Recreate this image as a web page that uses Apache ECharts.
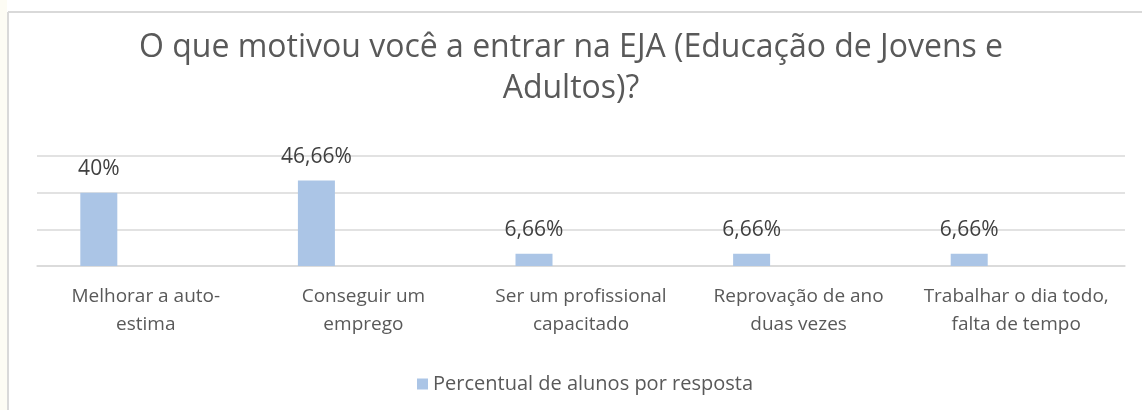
<!DOCTYPE html>
<html>
<head>
<meta charset="utf-8">
<script src="https://cdn.jsdelivr.net/npm/echarts@6/dist/echarts.min.js"></script>
<style>
  html, body { margin: 0; padding: 0; background: #fff; }
  #chart { width: 1142px; height: 410px; }
</style>
</head>
<body>
<div id="chart"></div>
<script>
// dados do gráfico
var categories = [
  "Melhorar a auto-estima",
  "Conseguir um emprego",
  "Ser um profissional capacitado",
  "Reprovação de ano duas vezes",
  "Trabalhar o dia todo, falta de tempo"
];
var tickLabels = [
  "Melhorar a auto-\nestima",
  "Conseguir um\nemprego",
  "Ser um profissional\ncapacitado",
  "Reprovação de ano\nduas vezes",
  "Trabalhar o dia todo,\nfalta de tempo"
];
var percentual = [40, 46.66, 6.66, 6.66, 6.66];
var emptySeries = [null, null, null, null, null];
var seriesName = "Percentual de alunos por resposta";
var titleText = "O que motivou você a entrar na EJA (Educação de Jovens e\nAdultos)?";

var FONT = "Open Sans";
var chart = echarts.init(document.getElementById("chart"));

var option = {
  backgroundColor: "#ffffff",
  animation: false,
  title: {
    text: titleText,
    left: "center",
    top: 22,
    textStyle: {
      fontFamily: FONT,
      fontSize: 32,
      fontWeight: "normal",
      color: "#595959",
      lineHeight: 41
    }
  },
  graphic: [
    { type: "rect", shape: { x: 0, y: 0, width: 7, height: 410 }, style: { fill: "#fdfcf4" }, silent: true },
    { type: "line", shape: { x1: 8, y1: 12, x2: 1142, y2: 12 }, style: { stroke: "#d9d9d9", lineWidth: 2 }, silent: true },
    { type: "line", shape: { x1: 8, y1: 12, x2: 8, y2: 410 }, style: { stroke: "#d9d9d9", lineWidth: 2 }, silent: true }
  ],
  legend: {
    data: [seriesName],
    left: 412,
    top: 369,
    icon: "rect",
    itemWidth: 11,
    itemHeight: 11,
    itemGap: 10,
    textStyle: { fontFamily: FONT, fontSize: 20, color: "#595959" }
  },
  grid: { left: 37, right: 17, top: 156, bottom: 144 },
  xAxis: {
    type: "category",
    data: categories,
    axisTick: { show: false },
    axisLine: { lineStyle: { color: "#d9d9d9", width: 1.5 } },
    axisLabel: {
      interval: 0,
      margin: 17,
      fontFamily: FONT,
      fontSize: 19,
      lineHeight: 28,
      color: "#595959",
      formatter: function (v, i) { return tickLabels[i]; }
    }
  },
  yAxis: {
    type: "value",
    min: 0,
    max: 60,
    interval: 20,
    axisLabel: { show: false },
    axisLine: { show: false },
    axisTick: { show: false },
    splitLine: { lineStyle: { color: "#d9d9d9", width: 1.5 } }
  },
  series: [
    {
      name: seriesName,
      type: "bar",
      data: percentual,
      barWidth: 37,
      barGap: "154%",
      itemStyle: { color: "#abc5e6" },
      label: {
        show: true,
        position: "top",
        distance: 13,
        fontFamily: FONT,
        fontSize: 21,
        color: "#404040",
        formatter: function (p) { return String(p.value).replace(".", ",") + "%"; }
      }
    },
    {
      name: "",
      type: "bar",
      data: emptySeries,
      barWidth: 37,
      itemStyle: { color: "transparent" }
    }
  ]
};

chart.setOption(option);
</script>
</body>
</html>
